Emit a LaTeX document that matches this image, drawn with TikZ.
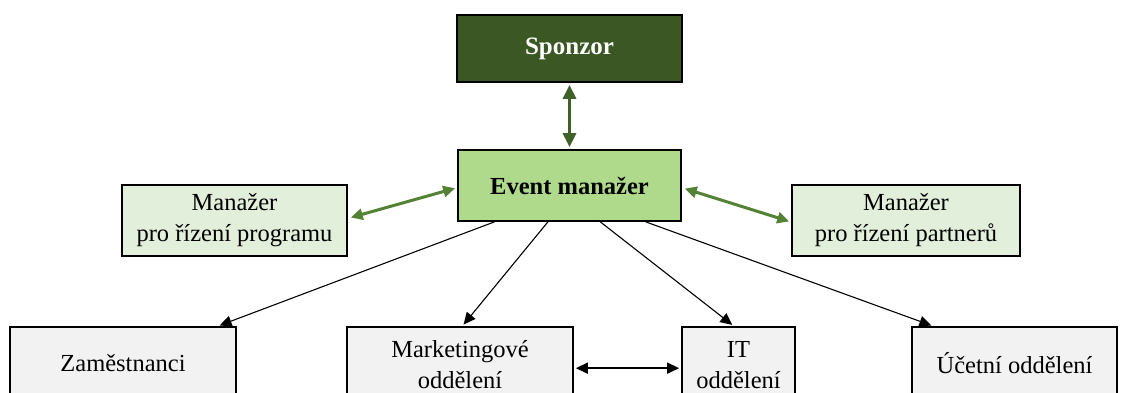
\documentclass[tikz,border=0pt]{standalone}
\usepackage{fontspec}
\setmainfont{Liberation Serif}
\usetikzlibrary{arrows.meta,calc}
\definecolor{darkgr}{HTML}{3A5724}
\definecolor{midgr}{HTML}{B0DA8B}
\definecolor{lightgr}{HTML}{E2EFDA}
\definecolor{boxgray}{HTML}{F2F2F2}
\definecolor{arrgr}{HTML}{548235}
\definecolor{arrdk}{HTML}{3F6128}
\begin{document}
\begin{tikzpicture}[x=1pt,y=-1pt,
  box/.style={draw=black,line width=1.7pt,inner sep=0pt,align=center,
    font=\fontsize{24.5}{31}\selectfont},
  thinarr/.style={-{Triangle[length=12pt,width=11pt]},line width=1.1pt,black},
  dblarr/.style={{Triangle[length=12pt,width=11pt]}-{Triangle[length=12pt,width=11pt]},line width=1.6pt,black},
  grarr/.style={{Triangle[length=12pt,width=11pt]}-{Triangle[length=12pt,width=11pt]},line width=3pt,arrgr},
  dkarr/.style={{Triangle[length=14pt,width=13pt]}-{Triangle[length=14pt,width=13pt]},line width=3pt,arrdk}]
\useasboundingbox (0,0) rectangle (1123,392);
\clip (0,0) rectangle (1123,392);
% top nodes
\node[box,fill=darkgr,text=white,minimum width=225pt,minimum height=67pt,font=\fontsize{25}{31}\selectfont\bfseries] (sp) at (569.5,48.5) {Sponzor};
\node[box,fill=midgr,minimum width=223pt,minimum height=71pt,font=\fontsize{24.5}{31}\selectfont\bfseries] (ev) at (569.5,185.5) {Event manažer};
\node[box,fill=lightgr,minimum width=225pt,minimum height=71pt] (pm) at (234.5,220.5) {Manažer\\ pro řízení programu};
\node[box,fill=lightgr,minimum width=228pt,minimum height=71pt] (pp) at (906,220.5) {Manažer\\ pro řízení partnerů};
% bottom nodes
\node[box,fill=boxgray,minimum width=226pt,minimum height=72pt] (za) at (123,363) {Zaměstnanci};
\node[box,fill=boxgray,minimum width=226pt,minimum height=76pt] (mk) at (460,365) {Marketingové\\ oddělení};
\node[box,fill=boxgray,minimum width=113pt,minimum height=76pt] (it) at (738.5,365) {IT\\ oddělení};
\node[box,fill=boxgray,minimum width=205pt,minimum height=72pt] (uc) at (1014.5,363) {Účetní oddělení};
% connectors
\draw[dkarr,shorten <=2pt,shorten >=2pt] (sp.south) -- (ev.north);
\draw[grarr,shorten <=2pt,shorten >=3pt] ($(ev.north west)!0.53!(ev.south west)$) -- ($(pm.north east)!0.47!(pm.south east)$);
\draw[grarr,shorten <=3pt,shorten >=2pt] ($(ev.north east)!0.53!(ev.south east)$) -- ($(pp.north west)!0.52!(pp.south west)$);
\draw[thinarr,shorten >=2pt] ($(ev.south west)!0.166!(ev.south east)$) -- ($(za.north west)!0.916!(za.north east)$);
\draw[thinarr,shorten >=2pt] ($(ev.south west)!0.404!(ev.south east)$) -- ($(mk.north west)!0.51!(mk.north east)$);
\draw[thinarr,shorten >=2pt] ($(ev.south west)!0.637!(ev.south east)$) -- ($(it.north west)!0.46!(it.north east)$);
\draw[thinarr,shorten >=2pt] ($(ev.south west)!0.839!(ev.south east)$) -- ($(uc.north west)!0.107!(uc.north east)$);
\draw[dblarr,shorten <=2pt,shorten >=2pt] ($(mk.north east)+(0,42)$) -- ($(it.north west)+(0,42)$);
\end{tikzpicture}
\end{document}
